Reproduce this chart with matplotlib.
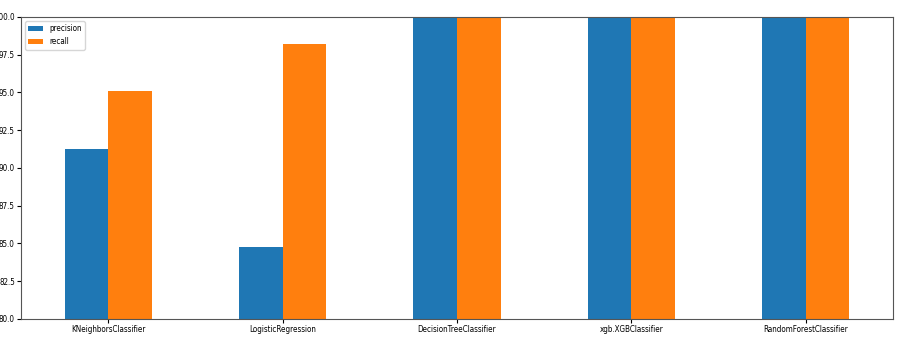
import matplotlib
matplotlib.use("Agg")
import matplotlib.pyplot as plt
import numpy as np
from matplotlib.font_manager import FontProperties

models = ["KNeighborsClassifier", "LogisticRegression", "DecisionTreeClassifier",
          "xgb.XGBClassifier", "RandomForestClassifier"]
precision = [91.25, 84.75, 100.0, 100.0, 100.0]
recall = [95.1, 98.2, 100.0, 100.0, 100.0]
yticks = [80.0, 82.5, 85.0, 87.5, 90.0, 92.5, 95.0, 97.5, 100.0]

plt.rcParams['font.family'] = ['DejaVu Sans']
fp = FontProperties(family='DejaVu Sans', stretch='condensed', size=5.8)

fig = plt.figure(figsize=(9.01, 3.63), dpi=100)
ax = fig.add_axes([21/901, 1-319/363, 872/901, 302/363])
x = np.arange(len(models))
w = 0.25
ax.bar(x - w/2, precision, w, color="#1f77b4", label="precision")
ax.bar(x + w/2, recall, w, color="#ff7f0e", label="recall")
ax.set_xlim(-0.5, len(models) - 0.5)
ax.set_ylim(80, 100)
ax.set_yticks(yticks)
ax.set_yticklabels([f"{v:.1f}" for v in yticks], fontproperties=fp)
ax.set_xticks(x)
ax.set_xticklabels(models, fontproperties=fp)
ax.tick_params(length=3, pad=1.5)
for s in ax.spines.values():
    s.set_color("#555555")
ax.legend(loc="upper left", prop=fp, handlelength=1.8)
fig.savefig("out.png", dpi=100)
